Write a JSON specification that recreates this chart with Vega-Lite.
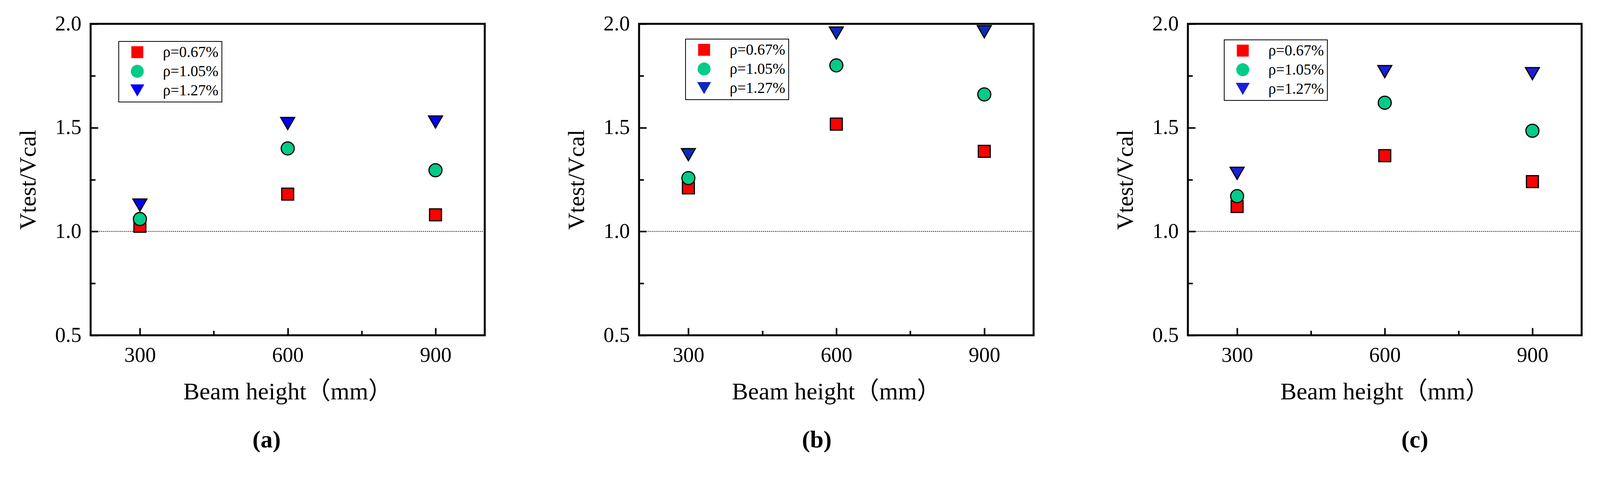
{
  "$schema": "https://vega.github.io/schema/vega-lite/v6.json",
  "background": "white",
  "padding": {"left": 40, "top": 31, "right": 10, "bottom": 10},
  "spacing": 395,
  "bounds": "flush",
  "resolve": {
    "scale": {"color": "independent", "shape": "independent", "size": "independent"},
    "legend": {"color": "independent", "shape": "independent", "size": "independent"}
  },
  "datasets": {
    "a": [
      {"h": 300, "rho": "ρ=0.67%", "v": 1.025},
      {"h": 300, "rho": "ρ=1.05%", "v": 1.06},
      {"h": 300, "rho": "ρ=1.27%", "v": 1.127},
      {"h": 600, "rho": "ρ=0.67%", "v": 1.18},
      {"h": 600, "rho": "ρ=1.05%", "v": 1.40},
      {"h": 600, "rho": "ρ=1.27%", "v": 1.52},
      {"h": 900, "rho": "ρ=0.67%", "v": 1.08},
      {"h": 900, "rho": "ρ=1.05%", "v": 1.295},
      {"h": 900, "rho": "ρ=1.27%", "v": 1.527}
    ],
    "b": [
      {"h": 300, "rho": "ρ=0.67%", "v": 1.21},
      {"h": 300, "rho": "ρ=1.05%", "v": 1.257},
      {"h": 300, "rho": "ρ=1.27%", "v": 1.37},
      {"h": 600, "rho": "ρ=0.67%", "v": 1.517},
      {"h": 600, "rho": "ρ=1.05%", "v": 1.80},
      {"h": 600, "rho": "ρ=1.27%", "v": 1.956},
      {"h": 900, "rho": "ρ=0.67%", "v": 1.386},
      {"h": 900, "rho": "ρ=1.05%", "v": 1.66},
      {"h": 900, "rho": "ρ=1.27%", "v": 1.962}
    ],
    "c": [
      {"h": 300, "rho": "ρ=0.67%", "v": 1.12},
      {"h": 300, "rho": "ρ=1.05%", "v": 1.17},
      {"h": 300, "rho": "ρ=1.27%", "v": 1.28},
      {"h": 600, "rho": "ρ=0.67%", "v": 1.365},
      {"h": 600, "rho": "ρ=1.05%", "v": 1.62},
      {"h": 600, "rho": "ρ=1.27%", "v": 1.77},
      {"h": 900, "rho": "ρ=0.67%", "v": 1.24},
      {"h": 900, "rho": "ρ=1.05%", "v": 1.485},
      {"h": 900, "rho": "ρ=1.27%", "v": 1.76}
    ]
  },
  "hconcat": [
    {
      "width": 1009,
      "height": 797,
      "title": {"text": "(a)", "orient": "bottom", "dx": -54, "offset": 63},
      "layer": [
        {
          "data": {"values": [{"ref": 1}]},
          "mark": {"type": "rule", "strokeDash": [3, 2], "color": "#333333", "strokeWidth": 2},
          "encoding": {"y": {"field": "ref", "type": "quantitative", "scale": {"domain": [0.5, 2.0], "zero": false}}}
        },
        {
          "data": {"name": "a"},
          "mark": {"type": "point", "filled": true, "stroke": "black", "strokeWidth": 3, "opacity": 1},
          "encoding": {
            "x": {"field": "h", "type": "quantitative", "scale": {"domain": [200, 1000]},
              "axis": {"values": [300, 450, 600, 750, 900], "labelExpr": "datum.value % 300 == 0 ? datum.label : ''", "tickSize": {"condition": {"test": "datum.value % 300 == 0", "value": -19}, "value": -12}, "labelPadding": 43, "title": "Beam height（mm）", "titlePadding": 29}},
            "y": {"field": "v", "type": "quantitative", "scale": {"domain": [0.5, 2.0], "zero": false},
              "axis": {"values": [0.5, 0.75, 1, 1.25, 1.5, 1.75, 2], "labelExpr": "datum.value % 0.5 == 0 ? format(datum.value, '.1f') : ''", "tickSize": {"condition": {"test": "datum.value % 0.5 == 0", "value": -19}, "value": -12}, "labelPadding": 43, "title": "Vtest/Vcal", "titlePadding": 37}},
            "color": {"field": "rho", "type": "nominal", "scale": {"range": ["#ff0000", "#00cc88", "#0000ff"]},
              "legend": {"orient": "none", "legendX": 72, "legendY": 45, "title": null}},
            "shape": {"field": "rho", "type": "nominal", "scale": {"range": ["square", "circle", "triangle-down"]}},
            "size": {"field": "rho", "type": "nominal", "scale": {"range": [933, 1280, 1775]}}
          }
        }
      ]
    },
    {
      "width": 1010,
      "height": 797,
      "title": {"text": "(b)", "orient": "bottom", "dx": -50, "offset": 63},
      "layer": [
        {
          "data": {"values": [{"ref": 1}]},
          "mark": {"type": "rule", "strokeDash": [3, 2], "color": "#333333", "strokeWidth": 2},
          "encoding": {"y": {"field": "ref", "type": "quantitative", "scale": {"domain": [0.5, 2.0], "zero": false}}}
        },
        {
          "data": {"name": "b"},
          "mark": {"type": "point", "filled": true, "stroke": "black", "strokeWidth": 3, "opacity": 1},
          "encoding": {
            "x": {"field": "h", "type": "quantitative", "scale": {"domain": [200, 1000]},
              "axis": {"values": [300, 450, 600, 750, 900], "labelExpr": "datum.value % 300 == 0 ? datum.label : ''", "tickSize": {"condition": {"test": "datum.value % 300 == 0", "value": -19}, "value": -12}, "labelPadding": 43, "title": "Beam height（mm）", "titlePadding": 29}},
            "y": {"field": "v", "type": "quantitative", "scale": {"domain": [0.5, 2.0], "zero": false},
              "axis": {"values": [0.5, 0.75, 1, 1.25, 1.5, 1.75, 2], "labelExpr": "datum.value % 0.5 == 0 ? format(datum.value, '.1f') : ''", "tickSize": {"condition": {"test": "datum.value % 0.5 == 0", "value": -19}, "value": -12}, "labelPadding": 43, "title": "Vtest/Vcal", "titlePadding": 37}},
            "color": {"field": "rho", "type": "nominal", "scale": {"range": ["#ff0000", "#00cc88", "#0c2cb8"]},
              "legend": {"orient": "none", "legendX": 119, "legendY": 39, "title": null}},
            "shape": {"field": "rho", "type": "nominal", "scale": {"range": ["square", "circle", "triangle-down"]}},
            "size": {"field": "rho", "type": "nominal", "scale": {"range": [933, 1280, 1775]}}
          }
        }
      ]
    },
    {
      "width": 1008,
      "height": 797,
      "title": {"text": "(c)", "orient": "bottom", "dx": 77, "offset": 63},
      "layer": [
        {
          "data": {"values": [{"ref": 1}]},
          "mark": {"type": "rule", "strokeDash": [3, 2], "color": "#333333", "strokeWidth": 2},
          "encoding": {"y": {"field": "ref", "type": "quantitative", "scale": {"domain": [0.5, 2.0], "zero": false}}}
        },
        {
          "data": {"name": "c"},
          "mark": {"type": "point", "filled": true, "stroke": "black", "strokeWidth": 3, "opacity": 1},
          "encoding": {
            "x": {"field": "h", "type": "quantitative", "scale": {"domain": [200, 1000]},
              "axis": {"values": [300, 450, 600, 750, 900], "labelExpr": "datum.value % 300 == 0 ? datum.label : ''", "tickSize": {"condition": {"test": "datum.value % 300 == 0", "value": -19}, "value": -12}, "labelPadding": 43, "title": "Beam height（mm）", "titlePadding": 29}},
            "y": {"field": "v", "type": "quantitative", "scale": {"domain": [0.5, 2.0], "zero": false},
              "axis": {"values": [0.5, 0.75, 1, 1.25, 1.5, 1.75, 2], "labelExpr": "datum.value % 0.5 == 0 ? format(datum.value, '.1f') : ''", "tickSize": {"condition": {"test": "datum.value % 0.5 == 0", "value": -19}, "value": -12}, "labelPadding": 43, "title": "Vtest/Vcal", "titlePadding": 37}},
            "color": {"field": "rho", "type": "nominal", "scale": {"range": ["#ff0000", "#00cc88", "#1a20d8"]},
              "legend": {"orient": "none", "legendX": 93, "legendY": 41, "title": null}},
            "shape": {"field": "rho", "type": "nominal", "scale": {"range": ["square", "circle", "triangle-down"]}},
            "size": {"field": "rho", "type": "nominal", "scale": {"range": [933, 1280, 1775]}}
          }
        }
      ]
    }
  ],
  "config": {
    "font": "Liberation Serif",
    "view": {"stroke": "black", "strokeWidth": 5},
    "axis": {
      "domain": false, "grid": false,
      "labelFont": "Liberation Serif", "labelFontSize": 54, "labelColor": "black",
      "labelOverlap": false, "labelFlush": false,
      "tickColor": "black", "tickWidth": 4,
      "titleFont": "Liberation Serif, Noto Sans CJK SC", "titleFontSize": 62, "titleFontWeight": "normal", "titleColor": "black"
    },
    "axisY": {"titleFontSize": 60},
    "legend": {
      "strokeColor": "black", "strokeWidth": 2, "padding": 8,
      "symbolOffset": 20, "labelOffset": 46, "rowPadding": 4,
      "labelFont": "Liberation Serif", "labelFontSize": 39, "labelColor": "black",
      "symbolStrokeColor": "black", "symbolStrokeWidth": 3, "symbolOpacity": 1
    },
    "title": {"font": "Liberation Serif", "fontSize": 62, "fontWeight": "bold", "color": "black"}
  }
}
